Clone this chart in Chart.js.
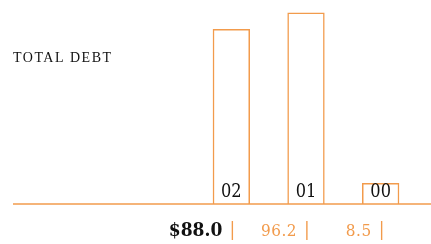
<!DOCTYPE html>
<html>
<head>
<meta charset="utf-8">
<script src="https://cdn.jsdelivr.net/npm/chart.js@4"></script>
<style>
  html, body { margin: 0; padding: 0; background: #fff; }
  #wrap { width: 431px; height: 244px; }
</style>
</head>
<body>
<div id="wrap"><canvas id="debtChart"></canvas></div>
<script>
const codes = ['02', '01', '00'];
const values = [88.0, 96.2, 8.5];
const valueLabels = ['$88.0', '96.2', '8.5'];
const title = 'TOTAL DEBT';

const orange = '#f29b4c';
const numFont = '"DejaVu Serif Condensed", "DejaVu Serif", serif';

const debtLabels = {
    id: 'debtLabels',
    afterDraw(chart) {
        const ctx = chart.ctx;
        const x = chart.scales.x;
        const y = chart.scales.y;
        const zero = y.getPixelForValue(0);
        ctx.save();

        // baseline across the whole width
        ctx.strokeStyle = orange;
        ctx.lineWidth = 1.5;
        ctx.beginPath();
        ctx.moveTo(13, zero);
        ctx.lineTo(chart.width, zero);
        ctx.stroke();

        // title
        ctx.fillStyle = '#111';
        ctx.font = '14px "Liberation Serif", serif';
        ctx.letterSpacing = '1.5px';
        ctx.textAlign = 'left';
        ctx.textBaseline = 'alphabetic';
        ctx.fillText(title, 13, 62);
        ctx.letterSpacing = '0px';

        codes.forEach((c, i) => {
            const cx = x.getPixelForValue(i);
            // code inside the bar
            ctx.fillStyle = '#111';
            ctx.font = '18px ' + numFont;
            ctx.textAlign = 'center';
            ctx.fillText(c, cx, zero - 7);

            // value under the axis
            ctx.textAlign = 'right';
            if (i === 0) {
                ctx.fillStyle = '#111';
                ctx.font = 'bold 19px ' + numFont;
            } else {
                ctx.fillStyle = orange;
                ctx.font = '17px ' + numFont;
                ctx.letterSpacing = '0.5px';
            }
            ctx.fillText(valueLabels[i], cx - 9, 236);
            ctx.letterSpacing = '0px';

            ctx.fillStyle = orange;
            ctx.font = '19px ' + numFont;
            ctx.textAlign = 'center';
            ctx.fillText('|', cx + 1, 235);
        });
        ctx.restore();
    }
};

new Chart(document.getElementById('debtChart'), {
    type: 'bar',
    data: {
        labels: codes,
        datasets: [{
            data: values,
            backgroundColor: 'rgba(255,255,255,0)',
            borderColor: orange,
            borderWidth: 1.5,
            barPercentage: 0.5,
            categoryPercentage: 1,
            minBarLength: 21
        }]
    },
    options: {
        responsive: true,
        maintainAspectRatio: false,
        animation: false,
        layout: { padding: { left: 194, right: 13, top: 5, bottom: 40 } },
        plugins: { legend: { display: false }, tooltip: { enabled: false } },
        scales: {
            x: { display: false },
            y: { display: false, min: 0, max: 100 }
        }
    },
    plugins: [debtLabels]
});
</script>
</body>
</html>
